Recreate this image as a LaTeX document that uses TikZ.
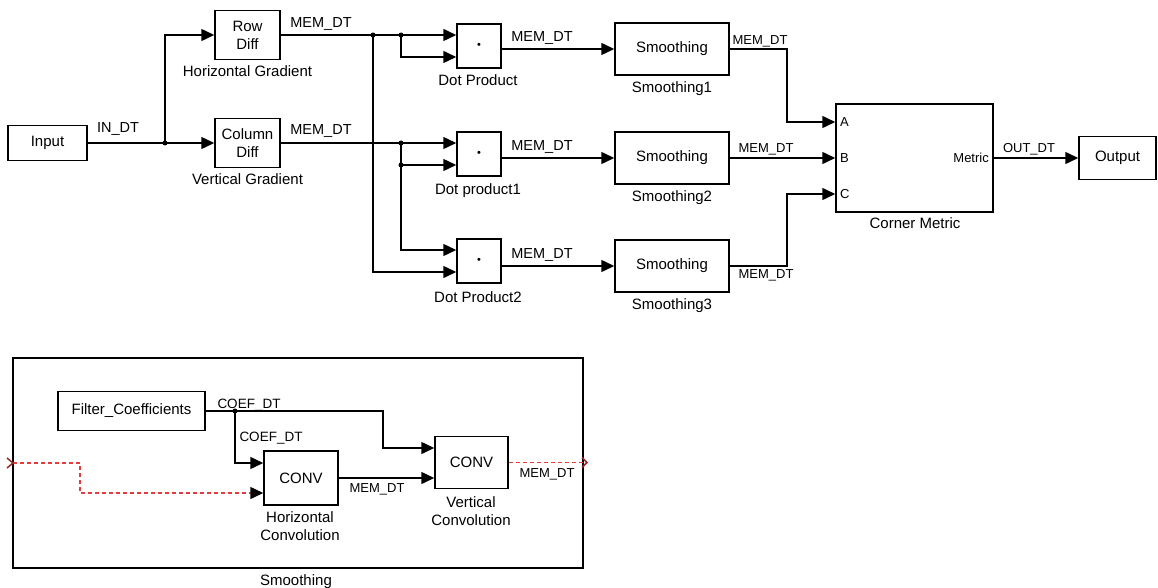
\documentclass[tikz,border=0pt]{standalone}
\usepackage{fontspec}
\setmainfont{Liberation Sans}
\usetikzlibrary{arrows.meta}
\definecolor{sigred}{RGB}{228,60,60}
\definecolor{portred}{RGB}{150,40,40}
\begin{document}
\begin{tikzpicture}[x=1pt,y=-1pt,
  blk/.style={draw,line width=1.5pt,inner sep=0,align=center,font=\fontsize{15}{18}\selectfont},
  capt/.style={inner sep=0,anchor=base,font=\fontsize{15}{18}\selectfont},
  captm/.style={inner sep=0,anchor=north,align=center,font=\fontsize{15}{18}\selectfont},
  wl/.style={inner sep=0,anchor=base,font=\fontsize{14.5}{16}\selectfont},
  ws/.style={inner sep=0,anchor=base,font=\fontsize{13}{15}\selectfont},
  wire/.style={line width=1.5pt},
  arrw/.style={wire,-{Triangle[length=13pt,width=12pt]}},
  sig/.style={line width=1.5pt,sigred,dash pattern=on 4pt off 3pt},
  sigarr/.style={sig,-{Triangle[length=13pt,width=12pt,color=black]}},
  mult/.style={blk,minimum width=44pt,minimum height=44pt,font=\fontsize{11}{11}\selectfont},
  smb/.style={blk,minimum width=114pt,minimum height=52pt}]
\useasboundingbox (0,0) rectangle (1158,588);

% ---------- top model ----------
\node[blk,minimum width=79pt,minimum height=35pt] (in) at (47.5,143) {Input};
\node[blk,minimum width=65pt,minimum height=49pt] (rowdiff) at (247.5,35) {Row\\Diff};
\node[blk,minimum width=65pt,minimum height=49pt] (coldiff) at (247.5,143) {Column\\Diff};
\node[capt] (lrow) at (247.5,77) {Horizontal Gradient};
\node[capt] (lcol) at (247.5,185) {Vertical Gradient};

\node[mult] (dot1) at (479,46) {\textbullet};
\node[mult] (dot2) at (479,154) {\textbullet};
\node[mult] (dot3) at (479,261) {\textbullet};
\node[capt] (ld1) at (478,86) {Dot Product};
\node[capt] (ld2) at (478,194) {Dot product1};
\node[capt] (ld3) at (478,302) {Dot Product2};

\node[smb] (sm1) at (672,49) {Smoothing};
\node[smb] (sm2) at (672,158) {Smoothing};
\node[smb] (sm3) at (672,266) {Smoothing};
\node[capt] (ls1) at (672,93) {Smoothing1};
\node[capt] (ls2) at (672,201) {Smoothing2};
\node[capt] (ls3) at (672,309) {Smoothing3};

\node[blk,minimum width=157pt,minimum height=108pt] (cm) at (914.5,158) {};
\node[capt] (lcm) at (915,228) {Corner Metric};
\node[ws,anchor=base west] (pa) at (840,126.5) {A};
\node[ws,anchor=base west] (pb) at (840,162.5) {B};
\node[ws,anchor=base west] (pc) at (840,198.5) {C};
\node[ws,anchor=base east] (pm) at (989,162.5) {Metric};

\node[blk,minimum width=77pt,minimum height=43pt] (out) at (1117.5,158) {Output};

% junctions
\coordinate (j0) at (165,143);
\coordinate (jA) at (373,35);
\coordinate (jB) at (401,35);
\coordinate (jC) at (401,143);
\coordinate (jD) at (401,165);
\coordinate (k1) at (787,49);
\coordinate (k3) at (787,266);

\draw[wire] (in.east) -- (j0);
\draw[arrw] (j0) -- (coldiff.west);
\draw[arrw] (j0) |- (rowdiff.west);
\draw[wire] (rowdiff.east) -- (jA) -- (jB);
\draw[arrw] (jB) -- ([yshift=11pt]dot1.west);
\draw[arrw] (jB) |- ([yshift=-11pt]dot1.west);
\draw[arrw] (jA) |- ([yshift=-11pt]dot3.west);
\draw[wire] (coldiff.east) -- (jC);
\draw[arrw] (jC) -- ([yshift=11pt]dot2.west);
\draw[wire] (jC) -- (jD);
\draw[arrw] (jD) -- ([yshift=-11pt]dot2.west);
\draw[arrw] (jD) |- ([yshift=11pt]dot3.west);
\foreach \j in {j0,jA,jB,jC,jD} \fill (\j) circle (2.5pt);

\draw[arrw] (dot1.east |- sm1.west) -- (sm1.west);
\draw[arrw] (dot2.east |- sm2.west) -- (sm2.west);
\draw[arrw] (dot3.east |- sm3.west) -- (sm3.west);

\draw[arrw] (sm1.east) -- (k1) |- ([yshift=36pt]cm.west);
\draw[arrw] (sm2.east) -- (cm.west);
\draw[arrw] (sm3.east) -- (k3) |- ([yshift=-36pt]cm.west);
\draw[arrw] (cm.east) -- (out.west);

% wire labels
\node[wl] (lin) at (118,133) {IN\_DT};
\node[wl] (lm1) at (321,28) {MEM\_DT};
\node[wl] (lm2) at (321,135) {MEM\_DT};
\node[wl] (lm3) at (542,42) {MEM\_DT};
\node[wl] (lm4) at (542,151) {MEM\_DT};
\node[wl] (lm5) at (542,258) {MEM\_DT};
\node[ws] (lm6) at (760,44.5) {MEM\_DT};
\node[ws] (lm7) at (766,152.5) {MEM\_DT};
\node[ws] (lm8) at (766,278.5) {MEM\_DT};
\node[ws] (lout) at (1029,152.5) {OUT\_DT};

% ---------- Smoothing subsystem ----------
\node[blk,minimum width=570pt,minimum height=210pt] (sub) at (298,463) {};
\node[capt] (lsub) at (296,585) {Smoothing};
\node[blk,minimum width=147pt,minimum height=39pt] (filt) at (131.5,411) {Filter\_Coefficients};
\node[blk,minimum width=74pt,minimum height=54pt] (hconv) at (301,478) {CONV};
\node[blk,minimum width=73pt,minimum height=52pt] (vconv) at (471.5,462.5) {CONV};
\node[captm] (lh) at (300,511.5) {Horizontal\\Convolution};
\node[captm] (lv) at (471,496.5) {Vertical\\Convolution};

\coordinate (jf) at (235,411);
\coordinate (kf) at (383,411);
\coordinate (pin) at (13,463);
\coordinate (kr) at (80,463);
\coordinate (pout) at (587,462.5);

\draw[wire] (filt.east) -- (jf);
\draw[arrw] (jf) -- (kf) |- ([yshift=14.5pt]vconv.west);
\draw[arrw] (jf) |- ([yshift=15pt]hconv.west);
\fill (jf) circle (2.5pt);
\draw[arrw] (hconv.east) -- (hconv.east -| vconv.west);
\draw[sigarr] (pin) -- (kr) |- ([yshift=-15pt]hconv.west);
\draw[sig] (vconv.east) -- (pout);
\draw[portred,line width=1.5pt] (7,458) -- (pin) -- (7,468);
\draw[portred,line width=1.5pt] (582,457.5) -- (pout) -- (582,467.5);

\node[ws,font=\fontsize{13.5}{15}\selectfont] (lc1) at (249,408) {COEF\_DT};
\node[ws,font=\fontsize{13.5}{15}\selectfont] (lc2) at (271,441) {COEF\_DT};
\node[ws] (lm9) at (377,492) {MEM\_DT};
\node[ws] (lm10) at (547,477) {MEM\_DT};
\end{tikzpicture}
\end{document}
